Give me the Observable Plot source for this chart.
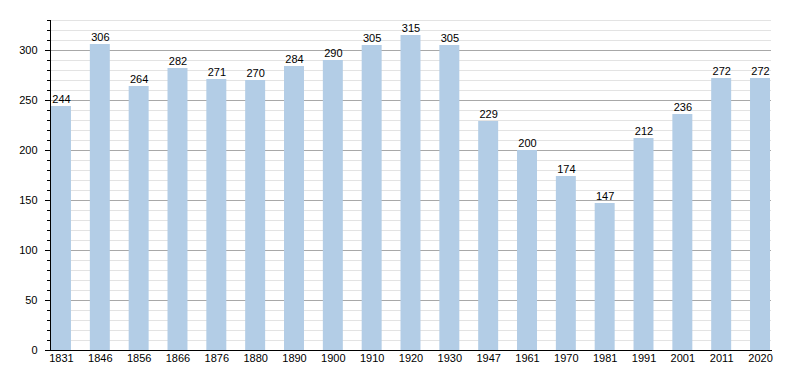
<!DOCTYPE html>
<html>
<head>
<meta charset="utf-8">
<script src="https://cdn.jsdelivr.net/npm/d3@7"></script>
<script src="https://cdn.jsdelivr.net/npm/@observablehq/plot@0.6"></script>
<style>
  html, body { margin: 0; padding: 0; background: #fff; }
  #chart svg { display: block; }
</style>
</head>
<body>
<div id="chart"></div>
<script>
const years = ["1831","1846","1856","1866","1876","1880","1890","1900","1910","1920","1930","1947","1961","1970","1981","1991","2001","2011","2020"];
const population = [244,306,264,282,271,270,284,290,305,315,305,229,200,174,147,212,236,272,272];
const majorTicks = [0,50,100,150,200,250,300];
const minorTicks = d3.range(10, 331, 10).filter(v => v % 50 !== 0);

const data = years.map((y, i) => ({year: y, value: population[i]}));

const chart = Plot.plot({
  width: 800,
  height: 370,
  marginLeft: 50,
  marginRight: 29,
  marginTop: 20,
  marginBottom: 20,
  style: {fontFamily: "Liberation Sans, Arial, sans-serif", fontSize: "11px", color: "#000", background: "#fff"},
  x: {domain: years, paddingInner: 0.4857, paddingOuter: 0.0257, round: false, label: null},
  y: {domain: [0, 330], label: null},
  marks: [
    Plot.ruleY(minorTicks, {stroke: "#e3e3e3", strokeWidth: 1}),
    Plot.ruleY(majorTicks.filter(v => v > 0), {stroke: "#a8a8a8", strokeWidth: 1}),
    Plot.barY(data, {x: "year", y: "value", fill: "#b3cde6"}),
    Plot.text(data, {x: "year", y: "value", text: d => String(d.value), dy: -4, lineAnchor: "bottom", fill: "#000", fontSize: 11}),
    Plot.axisY(majorTicks, {tickSize: 5, tickPadding: 8, fontSize: 11, label: null, stroke: "#000"}),
    Plot.axisY(minorTicks, {tickSize: 3, text: null, label: null, stroke: "#000"}),
    Plot.axisX({tickSize: 0, tickPadding: 4, fontSize: 11, label: null}),
    Plot.frame({anchor: "left", stroke: "#000"}),
    Plot.frame({anchor: "bottom", stroke: "#000"})
  ]
});
document.getElementById("chart").appendChild(chart);
</script>
</body>
</html>
